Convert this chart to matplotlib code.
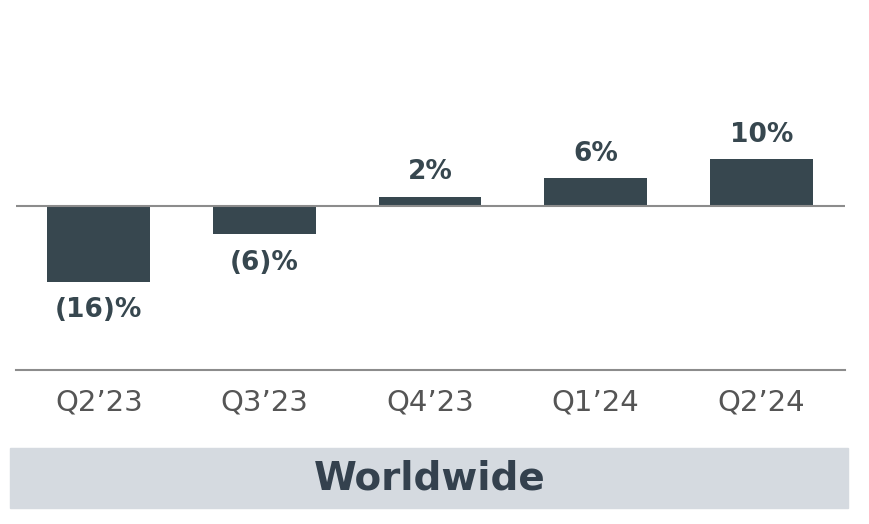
import matplotlib.pyplot as plt
from matplotlib.patches import Rectangle

quarters = ["Q2\u201923", "Q3\u201923", "Q4\u201923", "Q1\u201924", "Q2\u201924"]
growth = [-16, -6, 2, 6, 10]
value_labels = ["(16)%", "(6)%", "2%", "6%", "10%"]
region = "Worldwide"

bar_color = "#37474F"
band_color = "#D5DAE0"
line_color = "#8C8C8C"

plt.rcParams['font.family'] = ['DejaVu Sans']

W, H = 870, 524
fig = plt.figure(figsize=(W / 100, H / 100), dpi=100)
ax = fig.add_axes([16 / W, (H - 370) / H, 829 / W, 310 / H])

x = range(len(quarters))
ax.bar(x, growth, width=0.62, color=bar_color, zorder=2)
ax.axhline(0, color=line_color, lw=1.5, zorder=3)

for i, (v, lab) in enumerate(zip(growth, value_labels)):
    if v >= 0:
        ax.annotate(lab, (i, v), xytext=(0, 8), textcoords='offset points',
                    ha='center', va='bottom', fontsize=19, fontweight='bold',
                    color=bar_color)
    else:
        ax.annotate(lab, (i, v), xytext=(0, -11), textcoords='offset points',
                    ha='center', va='top', fontsize=19, fontweight='bold',
                    color=bar_color)

ax.set_xlim(-0.5, 4.505)
ax.set_ylim(-34.7, 30.9)
ax.set_xticks(list(x))
ax.set_xticklabels(quarters, fontsize=21, color="#555555")
ax.tick_params(axis='x', length=0, pad=13)
ax.set_yticks([])
for side in ['top', 'left', 'right']:
    ax.spines[side].set_visible(False)
ax.spines['bottom'].set_color(line_color)
ax.spines['bottom'].set_linewidth(1.5)

fig.patches.append(Rectangle((10 / W, (H - 508) / H), 838 / W, 60 / H,
                             transform=fig.transFigure, color=band_color,
                             zorder=0))
fig.text(430 / W, (H - 478) / H, region, ha='center', va='center',
         fontsize=28, fontweight='bold', color="#34414E")

fig.savefig("out.png", dpi=100)
